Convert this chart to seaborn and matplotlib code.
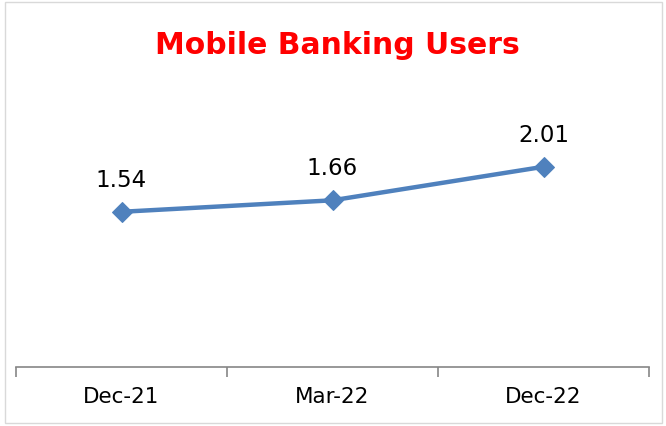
import numpy as np
import matplotlib
matplotlib.use("Agg")
import matplotlib.pyplot as plt
import matplotlib.patches as mpatches
import seaborn as sns

periods = ["Dec-21", "Mar-22", "Dec-22"]
users = [1.54, 1.66, 2.01]

sns.set_theme(style="white")
plt.rcParams['font.family'] = ['DejaVu Sans']

fig = plt.figure(figsize=(6.66, 4.27), dpi=100)
ax = fig.add_axes([16 / 666, 59 / 427, 633 / 666, 251 / 427])

line_color = "#4F81BD"
sns.lineplot(x=periods, y=users, sort=False, color=line_color, linewidth=3.2,
             marker="D", markersize=10, markeredgecolor=line_color, ax=ax)

for i, v in enumerate(users):
    ax.annotate(f"{v:.2f}", (i, v), xytext=(0, 15), textcoords="offset points",
                ha="center", va="bottom", fontsize=16.5, color="black")

ax.set_xlim(-0.5, len(periods) - 0.5)
ax.set_ylim(-0.08, 2.54)
ax.set_yticks([])
ax.set_xlabel("")
ax.set_ylabel("")

# Excel-style ticks between categories
ax.set_xticks(np.arange(len(periods)))
ax.set_xticklabels(periods, fontsize=15.5, color="black")
ax.set_xticks(np.arange(-0.5, len(periods)), minor=True)
ax.tick_params(axis="x", which="major", length=0, pad=14)
ax.tick_params(axis="x", which="minor", length=7, width=1.2, color="#868686", direction="out", bottom=True)

for side in ["top", "right", "left"]:
    ax.spines[side].set_visible(False)
ax.spines["bottom"].set_color("#868686")
ax.spines["bottom"].set_linewidth(1.2)

fig.text(0.506, 0.893, "Mobile Banking Users", ha="center", va="center",
         fontsize=21.5, fontweight="bold", color="#FF0000")

fig.patches.append(mpatches.Rectangle((5 / 666, 3 / 427), 657 / 666, 421 / 427,
                                      transform=fig.transFigure, fill=False,
                                      edgecolor="#D9D9D9", linewidth=1))

fig.savefig("out.png", dpi=100)
